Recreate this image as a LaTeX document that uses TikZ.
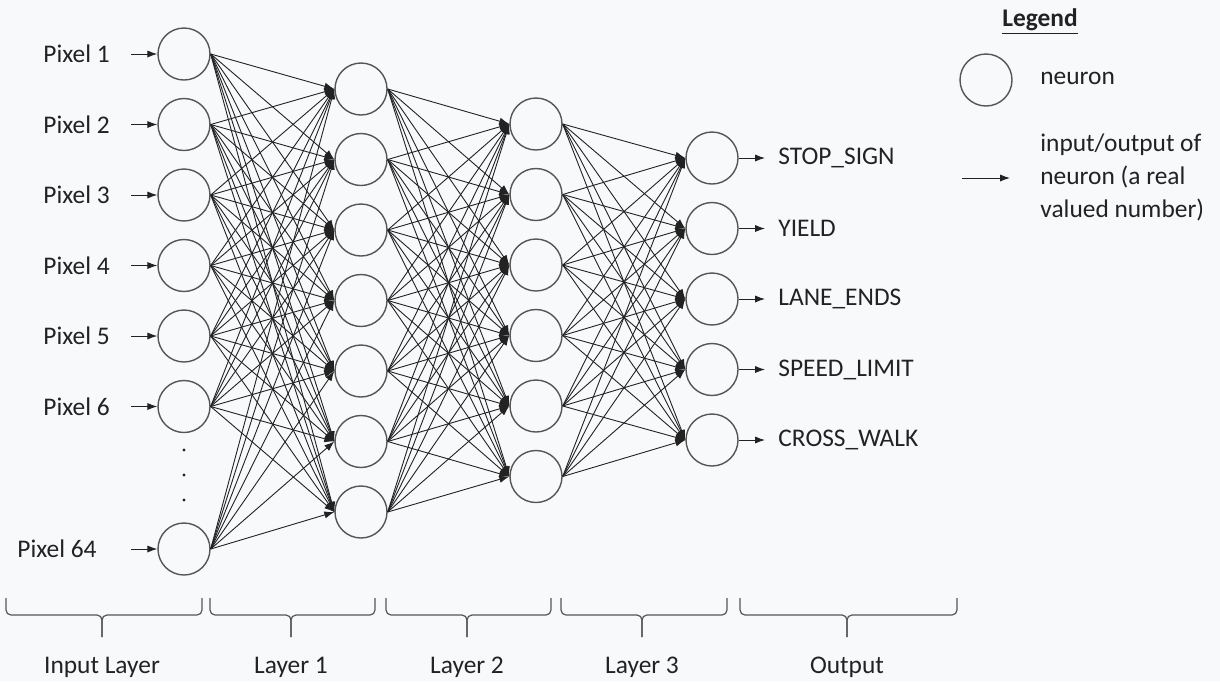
\documentclass[tikz,border=0pt]{standalone}
\usepackage{fontspec}
\setmainfont{Carlito}
\usetikzlibrary{arrows.meta}
\definecolor{bgcol}{HTML}{F8F9FA}
\definecolor{ink}{HTML}{222222}
\definecolor{rim}{HTML}{555555}

\begin{document}
\begin{tikzpicture}[x=0.5pt,y=-0.5pt,
  neuron/.style={circle, draw=rim, line width=0.7pt, minimum size=26pt, inner sep=0pt},
  txt/.style={text=ink, font=\fontsize{12.7}{16.5}\selectfont, inner sep=0pt},
  feed/.style={-{Latex[length=5pt,width=3.6pt]}, line width=0.5pt, draw=ink},
  wire/.style={-{Latex[length=5pt,width=3.6pt]}, line width=0.45pt, draw=ink},
  bracket/.style={draw=rim, line width=0.6pt, rounded corners=2.5pt}]

  % Canvas
  \fill[bgcol] (0,0) rectangle (1220,681);
  \useasboundingbox (0,0) rectangle (1220,681);

  % Input layer
  \foreach \i in {1,...,6} {
    \node[neuron] (in\i) at (184,{54+70.5*(\i-1)}) {};
    \node[txt, anchor=west] (pix\i) at (43,{54+70.5*(\i-1)}) {Pixel \i};
    \coordinate (src\i) at (131,{54+70.5*(\i-1)});
    \draw[feed] (src\i) -- (in\i.west);
  }
  \node[neuron] (in7) at (184,549) {};
  \node[txt, anchor=west] (pix7) at (17,549) {Pixel 64};
  \coordinate (src7) at (131,549);
  \draw[feed] (src7) -- (in7.west);

  % Dots between Pixel 6 and Pixel 64
  \fill[ink] (184,450) circle (0.8pt);
  \fill[ink] (184,475) circle (0.8pt);
  \fill[ink] (184,500) circle (0.8pt);

  % Hidden layers
  \foreach \i in {1,...,7}
    \node[neuron] (ha\i) at (361,{89+70.5*(\i-1)}) {};
  \foreach \i in {1,...,6}
    \node[neuron] (hb\i) at (536,{124+70.5*(\i-1)}) {};
  \foreach \i in {1,...,5}
    \node[neuron] (hc\i) at (712,{158+70.5*(\i-1)}) {};

  % Weights
  \foreach \i in {1,...,7}
    \foreach \j in {1,...,7}
      \draw[wire] (in\i.east) -- (ha\j.west);
  \foreach \i in {1,...,7}
    \foreach \j in {1,...,6}
      \draw[wire] (ha\i.east) -- (hb\j.west);
  \foreach \i in {1,...,6}
    \foreach \j in {1,...,5}
      \draw[wire] (hb\i.east) -- (hc\j.west);

  % Output classes
  \foreach \i/\t in {1/STOP\_SIGN, 2/YIELD, 3/LANE\_ENDS, 4/SPEED\_LIMIT, 5/CROSS\_WALK} {
    \node[txt, anchor=west, inner xsep=6.5pt] (cls\i) at (765,{158+70.5*(\i-1)}) {\t};
    \draw[feed] (hc\i.east) -- (cls\i);
  }

  % Legend
  \node[txt] (legend) at (1040,22) {\bfseries\underline{Legend}};
  \node[neuron] (lgneuron) at (986,80) {};
  \node[txt, anchor=west] (lgnlabel) at (1040,78) {neuron};
  \coordinate (lgs) at (962,178);
  \coordinate (lge) at (1010,178);
  \draw[feed] (lgs) -- (lge);
  \node[txt, anchor=west, align=left] (lgalabel) at (1040,177) {input/output of\\neuron (a real\\valued number)};

  % Layer braces
  \foreach \a/\m/\b/\t/\n in {6/102/202/Input Layer/input, 210/291/375/Layer 1/one,
      386/467/551/Layer 2/two, 561/642/727/Layer 3/three, 740/847/957/Output/out} {
    \draw[bracket] (\a,598) -- (\a,615) -- (\m,615) -- (\m,637);
    \draw[bracket] (\b,598) -- (\b,615) -- (\m,615) -- (\m,637);
    \node[txt] (lab\n) at (\m,667) {\t};
  }
\end{tikzpicture}
\end{document}
